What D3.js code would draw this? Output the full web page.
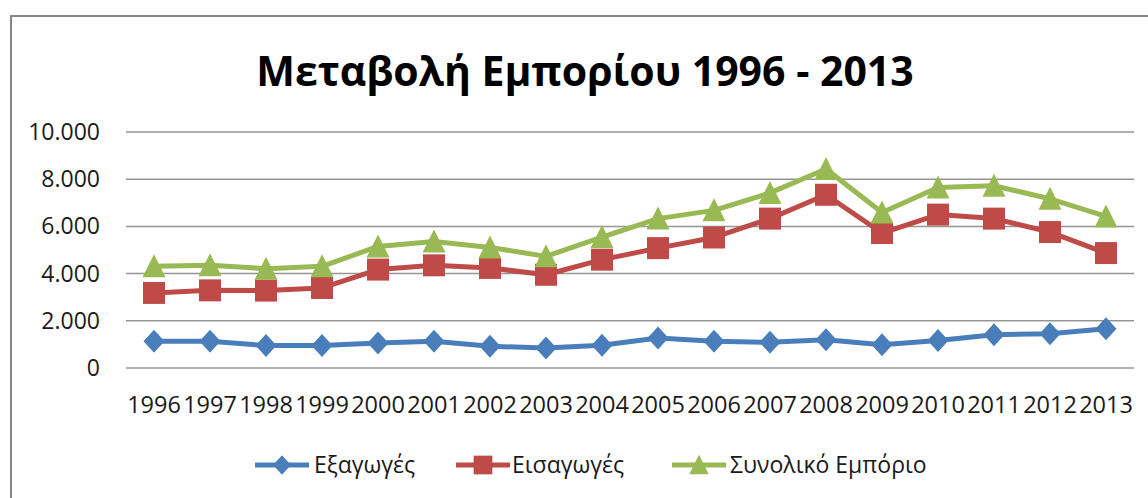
<!DOCTYPE html>
<html>
<head>
<meta charset="utf-8">
<script src="https://cdn.jsdelivr.net/npm/d3@7"></script>
<style>
  html, body { margin: 0; padding: 0; background: #fff; overflow: hidden; }
  svg { display: block; }
</style>
</head>
<body>
<svg id="chart"></svg>
<script>
const years = ["1996","1997","1998","1999","2000","2001","2002","2003","2004","2005",
               "2006","2007","2008","2009","2010","2011","2012","2013"];
const exportsVals = [1130,1130,950,950,1060,1130,920,850,960,1270,1130,1090,1200,990,1170,1410,1450,1660];
const importsVals = [3180,3290,3280,3390,4170,4350,4240,3950,4590,5080,5530,6330,7340,5720,6500,6330,5760,4870];
const totalVals   = [4310,4350,4210,4310,5150,5360,5110,4730,5550,6330,6680,7420,8430,6590,7650,7720,7170,6420];
const yTicks = [0, 2000, 4000, 6000, 8000, 10000];
const seriesNames = ["Εξαγωγές", "Εισαγωγές", "Συνολικό Εμπόριο"];
const titleText = "Μεταβολή Εμπορίου 1996 - 2013";

const fontFamily = "'Open Sans', 'Noto Sans', sans-serif";
const width = 1148, height = 498;
const margin = { top: 132, right: 14, bottom: 130, left: 126 };
const innerWidth = width - margin.left - margin.right;
const innerHeight = height - margin.top - margin.bottom;

const svg = d3.select("#chart")
    .attr("width", width)
    .attr("height", height)
    .attr("font-family", fontFamily);

// chart frame: only top and left edges are visible in the picture
svg.append("path")
    .attr("d", `M11,${height}V16H${width}`)
    .attr("fill", "none")
    .attr("stroke", "#878787")
    .attr("stroke-width", 2);

svg.append("text")
    .attr("x", 585).attr("y", 86)
    .attr("text-anchor", "middle")
    .attr("font-size", 41)
    .attr("font-weight", "bold")
    .attr("fill", "#000")
    .text(titleText);

const g = svg.append("g").attr("transform", `translate(${margin.left},${margin.top})`);

const x = d3.scaleBand().domain(years).range([0, innerWidth]).padding(0);
const y = d3.scaleLinear().domain([0, 10000]).range([innerHeight, 0]);

const locale = d3.formatLocale({ decimal: ",", thousands: ".", grouping: [3], currency: ["", "€"] });
const fmt = locale.format(",d");

// gridlines
g.selectAll("line.grid").data(yTicks).join("line")
    .attr("class", "grid")
    .attr("x1", 0).attr("x2", innerWidth)
    .attr("y1", d => y(d)).attr("y2", d => y(d))
    .attr("stroke", "#959595")
    .attr("stroke-width", 1.5);

const cx = d => x(d) + x.bandwidth() / 2;

// y tick labels
g.selectAll("text.ylab").data(yTicks).join("text")
    .attr("class", "ylab")
    .attr("x", -26)
    .attr("y", d => y(d) + 8)
    .attr("text-anchor", "end")
    .attr("font-size", 23)
    .attr("fill", "#1a1a1a")
    .text(d => fmt(d));

// x tick labels
g.selectAll("text.xlab").data(years).join("text")
    .attr("class", "xlab")
    .attr("x", d => cx(d))
    .attr("y", innerHeight + 45)
    .attr("text-anchor", "middle")
    .attr("font-size", 23.5)
    .attr("fill", "#1a1a1a")
    .text(d => d);

const series = [
    { name: seriesNames[0], values: exportsVals, color: "#4a7ebb", marker: "diamond" },
    { name: seriesNames[1], values: importsVals, color: "#be4b48", marker: "square" },
    { name: seriesNames[2], values: totalVals,   color: "#98b954", marker: "triangle" }
];

const markerPath = {
    diamond:  "M0,-11.5L10.5,0L0,11.5L-10.5,0Z",
    square:   "M-11,-11H11V11H-11Z",
    triangle: "M0,-12L11.5,11L-11.5,11Z"
};

const line = d3.line()
    .x((d, i) => cx(years[i]))
    .y(d => y(d));

series.forEach(s => {
    g.append("path")
        .datum(s.values)
        .attr("d", line)
        .attr("fill", "none")
        .attr("stroke", s.color)
        .attr("stroke-width", 5)
        .attr("stroke-linejoin", "round");

    g.selectAll(null).data(s.values).join("path")
        .attr("transform", (d, i) => `translate(${cx(years[i])},${y(d)})`)
        .attr("d", markerPath[s.marker])
        .attr("fill", s.color);
});

// legend
const legendItems = [
    { x: 255, textX: 314 },
    { x: 456, textX: 512 },
    { x: 672, textX: 730 }
];
const legendY = 465;
const legend = svg.append("g");
series.forEach((s, i) => {
    const it = legendItems[i];
    legend.append("line")
        .attr("x1", it.x).attr("x2", it.x + 54)
        .attr("y1", legendY).attr("y2", legendY)
        .attr("stroke", s.color).attr("stroke-width", 5);
    legend.append("path")
        .attr("transform", `translate(${it.x + 27},${legendY}) scale(0.85)`)
        .attr("d", markerPath[s.marker])
        .attr("fill", s.color);
    legend.append("text")
        .attr("x", it.textX).attr("y", legendY + 8)
        .attr("font-size", 23)
        .attr("fill", "#1a1a1a")
        .text(s.name);
});
</script>
</body>
</html>
